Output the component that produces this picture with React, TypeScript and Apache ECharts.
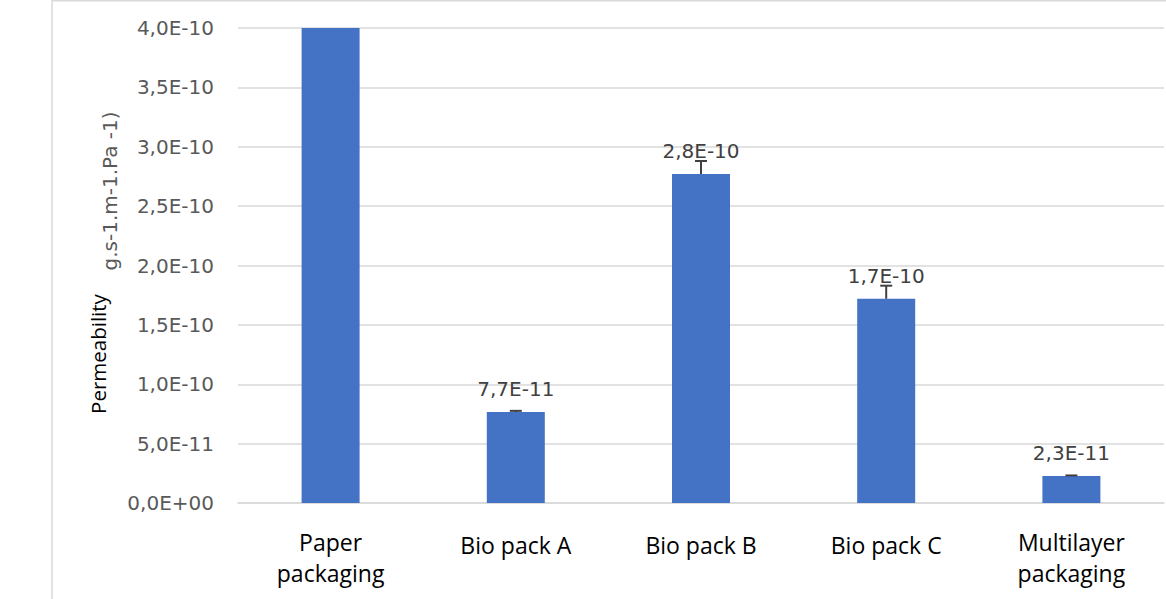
import React, { useEffect, useRef } from "react";
import * as echarts from "echarts";

const categories = ["Paper\npackaging", "Bio pack A", "Bio pack B", "Bio pack C", "Multilayer\npackaging"];
const values = [4.0e-10, 7.66e-11, 2.77e-10, 1.72e-10, 2.27e-11];
const errors = [0, 1.0e-12, 1.1e-11, 1.1e-11, 5.0e-13];
const showLabel = [false, true, true, true, true];
const yMin = 0;
const yMax = 4.0e-10;
const yInterval = 0.5e-10;
const yTitleMain = "Permeability";
const yTitleUnit = "g.s-1.m-1.Pa -1)";

function fmtExp(v: number): string {
  const s = v.toExponential(1);
  const m = s.match(/^(-?\d)\.(\d)e([+-])(\d+)$/);
  if (!m) return s;
  return `${m[1]},${m[2]}E${m[3]}${m[4].padStart(2, "0")}`;
}

export default function App() {
  const ref = useRef<HTMLDivElement>(null);
  useEffect(() => {
    if (!ref.current) return;
    const chart = echarts.init(ref.current, undefined, { renderer: "svg" });
    const xFont = "'Open Sans', sans-serif";
    const numFont = "'DejaVu Sans', sans-serif";
    chart.setOption({
      animation: false,
      backgroundColor: "#ffffff",
      grid: { left: 238, right: 2, top: 28, bottom: 96, containLabel: false },
      xAxis: {
        type: "category",
        data: categories,
        axisLine: { show: true, lineStyle: { color: "#d9d9d9", width: 1.5 } },
        axisTick: { show: false },
        axisLabel: {
          margin: 23,
          interval: 0,
          formatter: (v: string) =>
            v.includes("\n")
              ? v.split("\n").map((p) => `{t|${p}}`).join("\n")
              : `{s|${v}}`,
          rich: {
            t: { fontFamily: xFont, fontSize: 23, color: "#000000", lineHeight: 31 },
            s: { fontFamily: xFont, fontSize: 23, color: "#000000", lineHeight: 31, padding: [7, 0, 0, 0] },
          },
        },
      },
      yAxis: {
        type: "value",
        min: yMin,
        max: yMax,
        interval: yInterval,
        axisLine: { show: false },
        axisTick: { show: false },
        splitLine: { show: true, lineStyle: { color: "#d9d9d9", width: 1.5 } },
        axisLabel: {
          margin: 24,
          color: "#595959",
          fontFamily: numFont,
          fontSize: 20,
          formatter: (v: number) => fmtExp(v),
        },
      },
      series: [
        {
          type: "bar",
          barWidth: 58,
          itemStyle: { color: "#4472C4" },
          data: values.map((v, i) => ({
            value: v,
            label: {
              show: showLabel[i],
              position: "top",
              distance: 13,
              color: "#404040",
              fontFamily: numFont,
              fontSize: 20,
              formatter: () => fmtExp(v),
            },
          })),
        },
        {
          type: "custom",
          z: 5,
          data: values.map((v, i) => [i, v, errors[i]]),
          renderItem: (params: any, api: any) => {
            const idx = api.value(0);
            const v = api.value(1);
            const e = api.value(2);
            if (!e) return null;
            const p0 = api.coord([idx, v]);
            const p1 = api.coord([idx, v + e]);
            const style = { stroke: "#404040", lineWidth: 2 };
            return {
              type: "group",
              children: [
                { type: "line", shape: { x1: p0[0], y1: p0[1], x2: p1[0], y2: p1[1] }, style },
                { type: "line", shape: { x1: p1[0] - 6, y1: p1[1], x2: p1[0] + 6, y2: p1[1] }, style },
              ],
            };
          },
        },
      ],
      graphic: [
        { type: "line", shape: { x1: 52, y1: 0.75, x2: 1166, y2: 0.75 }, style: { stroke: "#d9d9d9", lineWidth: 1.5 } },
        { type: "line", shape: { x1: 52, y1: 0, x2: 52, y2: 599 }, style: { stroke: "#d9d9d9", lineWidth: 1.5 } },
        {
          type: "text",
          x: 98,
          y: 354,
          rotation: Math.PI / 2,
          style: { text: yTitleMain, fill: "#000000", fontFamily: xFont, fontSize: 20.5, align: "center", verticalAlign: "middle" },
        },
        {
          type: "text",
          x: 110,
          y: 191,
          rotation: Math.PI / 2,
          style: { text: yTitleUnit, fill: "#595959", fontFamily: numFont, fontSize: 20, align: "center", verticalAlign: "middle" },
        },
      ],
    });
    return () => chart.dispose();
  }, []);
  return <div ref={ref} style={{ position: "fixed", left: 0, top: 0, width: 1166, height: 599 }} />;
}
